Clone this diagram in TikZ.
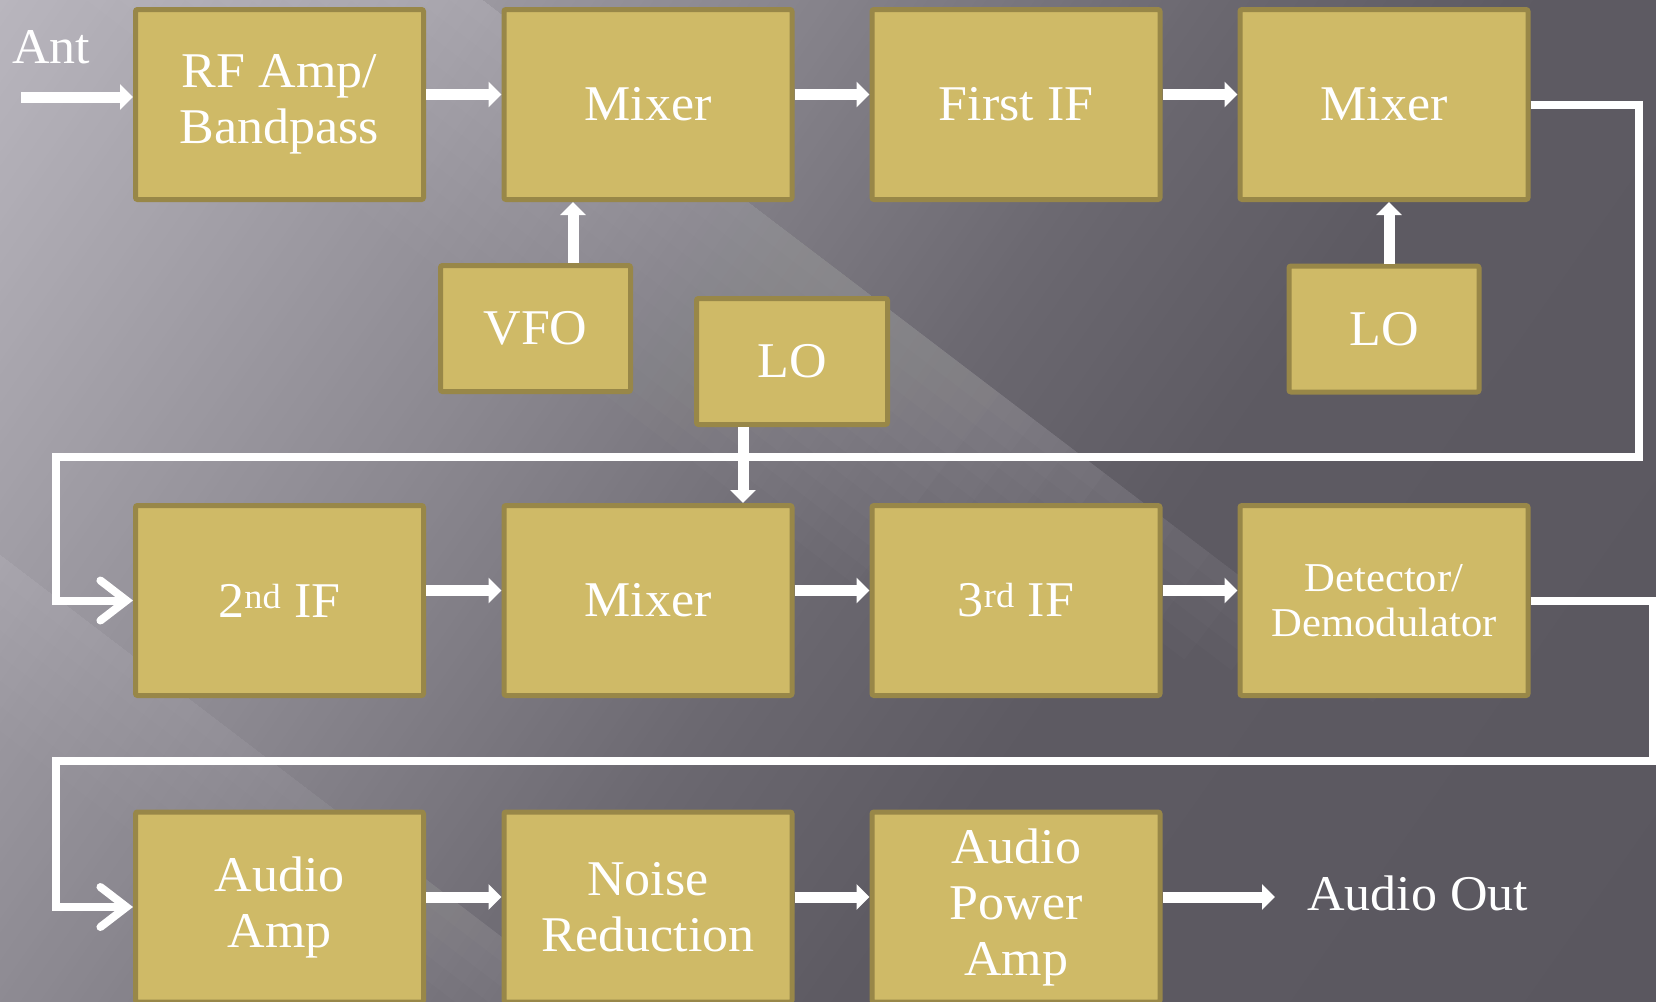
\documentclass[tikz,border=0pt]{standalone}
\usepackage{fontspec}
\setmainfont{Liberation Serif}[FakeStretch=1.04]
\usetikzlibrary{arrows.meta}
\definecolor{boxfill}{RGB}{207,186,103}
\definecolor{boxline}{RGB}{152,135,72}
\tikzset{
  blk/.style={rectangle, draw=boxline, fill=boxfill, line width=5pt, rounded corners=2pt,
    minimum width=288pt, minimum height=190pt, text=white, align=center,
    font=\fontsize{50}{56}\selectfont, inner sep=0pt},
  smallblk/.style={blk, minimum width=190pt, minimum height=126pt},
  flow/.style={draw=white, line width=11pt, -{Triangle[width=25pt,length=13pt]}},
  wrap/.style={draw=white, line width=8pt, -{Straight Barb[length=26pt,width=40pt,line cap=round]}},
  lbl/.style={text=white, font=\fontsize{50}{56}\selectfont, inner sep=0pt},
  sheen/.style={fill=white, fill opacity=0.014}
}
\begin{document}
\begin{tikzpicture}[x=1pt,y=-1pt]
\useasboundingbox (0,0) rectangle (1656,1001);
\clip (0,0) rectangle (1656,1001);
% background gradient in strips
\foreach \ta in {0,8,...,1944}{
  \pgfmathsetmacro\tb{\ta+9}
  \pgfmathtruncatemacro\gv{\ta<600 ? 185-0.075*\ta : (\ta<1000 ? 140-0.0825*(\ta-600) : (\ta<1250 ? 107-0.052*(\ta-1000) : 94-0.0053*(\ta-1250)))}
  \pgfmathtruncatemacro\gw{\gv-3}
  \pgfmathtruncatemacro\bv{\gv+5}
  \definecolor{bgc}{RGB}{\gv,\gw,\bv}
  \fill[bgc] ({\ta*0.819+1500*0.574},{\ta*0.574-1500*0.819}) -- ({\tb*0.819+1500*0.574},{\tb*0.574-1500*0.819})
    -- ({\tb*0.819-1500*0.574},{\tb*0.574+1500*0.819}) -- ({\ta*0.819-1500*0.574},{\ta*0.574+1500*0.819}) -- cycle;
}
% sheen bands (hard upper edge, soft lower edge, tapered ends)
\foreach \w in {20,40,...,240}{
  \pgfmathsetmacro\ex{1420-\w*2.2*0.796}
  \pgfmathsetmacro\ey{713-\w*2.2*0.605}
  \fill[sheen] (-68,-419) -- (\ex,\ey) -- ({\ex-\w*0.605},{\ey+\w*0.796}) -- ({-68-\w*0.605},{-419+\w*0.796}) -- cycle;
}
\foreach \w in {20,40,...,140}{
  \pgfmathsetmacro\ex{950-\w*2.5*0.796}
  \pgfmathsetmacro\ey{1278-\w*2.5*0.605}
  \fill[sheen] (-400,250) -- (\ex,\ey) -- ({\ex-\w*0.605},{\ey+\w*0.796}) -- ({-400-\w*0.605},{250+\w*0.796}) -- cycle;
}
% blocks
\node[blk] (rf) at (279.5,104.5) {RF Amp/\\Bandpass};
\node[blk] (mx1) at (648,104.5) {Mixer};
\node[blk] (if1) at (1016,104.5) {First IF};
\node[blk] (mx2) at (1384,104.5) {Mixer};
\node[smallblk] (vfo) at (535.5,328.5) {VFO};
\node[smallblk, minimum width=191pt] (lo1) at (792,361.5) {LO};
\node[smallblk] (lo2) at (1384,329) {LO};
\node[blk] (if2) at (279.5,600.5) {2\textsuperscript{nd} IF};
\node[blk] (mx3) at (648,600.5) {Mixer};
\node[blk] (if3) at (1016,600.5) {3\textsuperscript{rd} IF};
\node[blk, font=\fontsize{41}{45}\selectfont] (det) at (1384,600.5) {Detector/\\Demodulator};
\node[blk] (aa) at (279.5,907) {Audio\\Amp};
\node[blk] (nr) at (648,907) {Noise\\Reduction};
\node[blk] (apa) at (1016,907) {Audio\\Power\\Amp};
% labels
\node[lbl, anchor=base west] (ant) at (12,63) {Ant};
\node[lbl, anchor=base west] (aout) at (1307,910) {Audio Out};
% coordinates
\coordinate (antS) at (21,97);
\coordinate (vx1) at (573,0);
\coordinate (vx2) at (1389,0);
\coordinate (vx3) at (743,0);
\coordinate (c1) at (1639,457);
\coordinate (c2) at (56,457);
\coordinate (c3) at (1653,761);
\coordinate (c4) at (56,761);
\coordinate (aoutend) at (1275,897);
% wrap connectors
\draw[wrap] (mx2.east) -| (c1) -- (c2) |- (if2.west);
\draw[wrap] (det.east) -| (c3) -- (c4) |- (aa.west);
% straight arrows
\draw[flow] (antS) -- (antS -| rf.west);
\draw[flow] ([yshift=10pt]rf.east) -- ([yshift=10pt]mx1.west);
\draw[flow] ([yshift=10pt]mx1.east) -- ([yshift=10pt]if1.west);
\draw[flow] ([yshift=10pt]if1.east) -- ([yshift=10pt]mx2.west);
\draw[flow] ([yshift=10pt]if2.east) -- ([yshift=10pt]mx3.west);
\draw[flow] ([yshift=10pt]mx3.east) -- ([yshift=10pt]if3.west);
\draw[flow] ([yshift=10pt]if3.east) -- ([yshift=10pt]det.west);
\draw[flow] ([yshift=10pt]aa.east) -- ([yshift=10pt]nr.west);
\draw[flow] ([yshift=10pt]nr.east) -- ([yshift=10pt]apa.west);
\draw[flow] ([yshift=10pt]apa.east) -- (aoutend);
\draw[flow] (vfo.north -| vx1) -- (mx1.south -| vx1);
\draw[flow] (lo2.north -| vx2) -- (mx2.south -| vx2);
\draw[flow] (lo1.south -| vx3) -- (mx3.north -| vx3);
\end{tikzpicture}
\end{document}
